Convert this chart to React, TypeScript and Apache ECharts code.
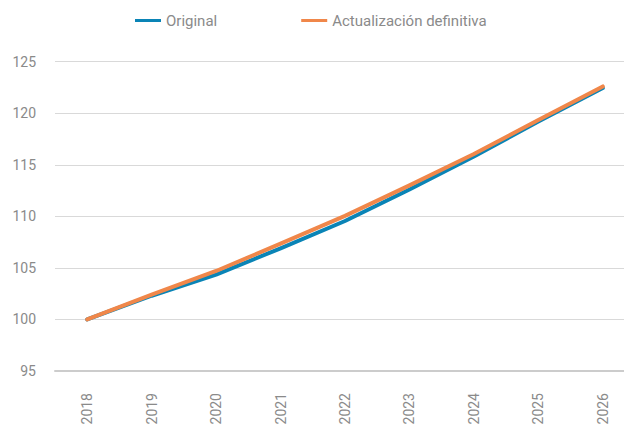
import React, { useEffect, useRef } from "react";
import * as echarts from "echarts";

const years = ["2018", "2019", "2020", "2021", "2022", "2023", "2024", "2025", "2026"];
const original = [100, 102.3, 104.35, 106.9, 109.55, 112.6, 115.8, 119.2, 122.45];
const actualizacion = [100, 102.4, 104.7, 107.35, 110.05, 113.0, 116.05, 119.35, 122.6];
const seriesNames = ["Original", "Actualización definitiva"];
const colors = ["#0a84b6", "#f0874a"];

export default function App() {
  const ref = useRef<HTMLDivElement>(null);
  useEffect(() => {
    document.body.style.margin = "0";
    document.body.style.overflow = "hidden";
    const chart = echarts.init(ref.current!, null, { renderer: "svg" });
    chart.setOption({
      animation: false,
      textStyle: { fontFamily: "Roboto" },
      legend: {
        top: 13,
        left: 135,
        padding: 0,
        itemWidth: 26,
        itemHeight: 3,
        itemGap: 84,
        icon: "rect",
        textStyle: { color: "#8a8a8a", fontSize: 15, fontFamily: "Roboto" },
        data: seriesNames,
      },
      grid: { left: 55, top: 61.7, width: 580, height: 309.3, containLabel: false },
      xAxis: {
        type: "category",
        data: years,
        boundaryGap: true,
        axisLine: { show: true, lineStyle: { color: "#cccccc", width: 2 } },
        axisTick: { show: false },
        axisLabel: { rotate: 90, margin: 22, color: "#8a8a8a", fontSize: 14, fontFamily: "Roboto" },
      },
      yAxis: {
        type: "value",
        min: 95,
        max: 125,
        interval: 5,
        axisLine: { show: false },
        axisTick: { show: false },
        axisLabel: { margin: 19, color: "#8a8a8a", fontSize: 14, fontFamily: "Roboto" },
        splitLine: { lineStyle: { color: "#d9d9d9", width: 1 } },
      },
      series: [
        {
          name: seriesNames[0],
          type: "line",
          data: original,
          symbol: "none",
          color: colors[0],
          lineStyle: { width: 4, color: colors[0], cap: "round", join: "round" },
        },
        {
          name: seriesNames[1],
          type: "line",
          data: actualizacion,
          symbol: "none",
          color: colors[1],
          lineStyle: { width: 4, color: colors[1], cap: "round", join: "round" },
        },
      ],
    });
    return () => chart.dispose();
  }, []);
  return <div ref={ref} style={{ width: 640, height: 432 }} />;
}
